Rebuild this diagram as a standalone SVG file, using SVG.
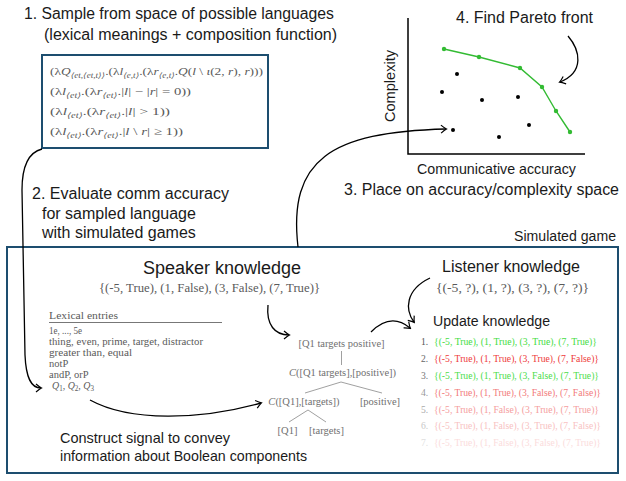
<svg xmlns="http://www.w3.org/2000/svg" width="626" height="481" viewBox="0 0 626 481">
<style>
.lbl{font-family:"Liberation Sans",Arial,sans-serif;fill:#1a1a1a}
.tex{font-family:"Liberation Serif","DejaVu Serif",serif;fill:#5a5a5a}
.tree{font-family:"Liberation Serif","DejaVu Serif",serif;fill:#707070;font-size:10.5px;text-anchor:middle}
.conn{fill:none;stroke:#000;stroke-width:1.3}
.box{fill:none;stroke:#1d4e6f}
.it{font-style:italic}
.tl{stroke:#888;stroke-width:0.8;fill:none}
</style>
<defs>
<marker id="arr" viewBox="-6 -5 8 10" markerWidth="8" markerHeight="10" refX="0" refY="0" orient="auto" markerUnits="userSpaceOnUse">
<path d="M-5,-4 Q-1.5,-1 0.5,0 Q-1.5,1 -5,4" fill="none" stroke="#000" stroke-width="1.2"/>
</marker>
</defs>
<rect width="626" height="481" fill="#fff"/>

<g id="step1">
<text class="lbl" x="24" y="19" font-size="16" textLength="310" lengthAdjust="spacingAndGlyphs">1. Sample from space of possible languages</text>
<text class="lbl" x="44" y="40" font-size="16">(lexical meanings + composition function)</text>
</g>

<g id="formulas">
<rect class="box" x="42" y="55" width="226" height="93" stroke-width="2"/>
<text class="tex" x="50" y="75" font-size="11" textLength="213" lengthAdjust="spacingAndGlyphs">(λ<tspan class="it">Q</tspan><tspan dy="2.5" font-size="7.5" class="it">⟨et,⟨et,t⟩⟩</tspan><tspan dy="-2.5">.(λ</tspan><tspan class="it">l</tspan><tspan dy="2.5" font-size="7.5" class="it">⟨e,t⟩</tspan><tspan dy="-2.5">.(λ</tspan><tspan class="it">r</tspan><tspan dy="2.5" font-size="7.5" class="it">⟨e,t⟩</tspan><tspan dy="-2.5">.</tspan><tspan class="it">Q</tspan>(<tspan class="it">l</tspan> \ <tspan class="it">ι</tspan>(2, <tspan class="it">r</tspan>), <tspan class="it">r</tspan>)))</text>
<text class="tex" x="50" y="95" font-size="11" textLength="141" lengthAdjust="spacingAndGlyphs">(λ<tspan class="it">l</tspan><tspan dy="2.5" font-size="7.5" class="it">⟨et⟩</tspan><tspan dy="-2.5">.(λ</tspan><tspan class="it">r</tspan><tspan dy="2.5" font-size="7.5" class="it">⟨et⟩</tspan><tspan dy="-2.5">.|</tspan><tspan class="it">l</tspan>| − |<tspan class="it">r</tspan>| = 0))</text>
<text class="tex" x="50" y="115" font-size="11" textLength="120" lengthAdjust="spacingAndGlyphs">(λ<tspan class="it">l</tspan><tspan dy="2.5" font-size="7.5" class="it">⟨et⟩</tspan><tspan dy="-2.5">.(λ</tspan><tspan class="it">r</tspan><tspan dy="2.5" font-size="7.5" class="it">⟨et⟩</tspan><tspan dy="-2.5">.|</tspan><tspan class="it">l</tspan>| &gt; 1))</text>
<text class="tex" x="50" y="135" font-size="11" textLength="133" lengthAdjust="spacingAndGlyphs">(λ<tspan class="it">l</tspan><tspan dy="2.5" font-size="7.5" class="it">⟨et⟩</tspan><tspan dy="-2.5">.(λ</tspan><tspan class="it">r</tspan><tspan dy="2.5" font-size="7.5" class="it">⟨et⟩</tspan><tspan dy="-2.5">.|</tspan><tspan class="it">l</tspan> \ <tspan class="it">r</tspan>| ≥ 1))</text>
</g>

<g id="chart">
<path d="M408,18 V154 H585" fill="none" stroke="#000" stroke-width="1.5"/>
<text class="lbl" transform="translate(395,86) rotate(-90)" font-size="15" text-anchor="middle" textLength="72" lengthAdjust="spacingAndGlyphs">Complexity</text>
<text class="lbl" x="417" y="174" font-size="14.5" textLength="159" lengthAdjust="spacingAndGlyphs">Communicative accuracy</text>
<polyline points="444,49 479,57 520,68 542,87 556,111 570,132" fill="none" stroke="#33bb33" stroke-width="1.4"/>
<g fill="#33bb33">
<circle cx="444" cy="49" r="2.2"/><circle cx="479" cy="57" r="2.2"/><circle cx="520" cy="68" r="2.2"/><circle cx="542" cy="87" r="2.2"/><circle cx="556" cy="111" r="2.2"/><circle cx="570" cy="132" r="2.2"/>
</g>
<g fill="#000">
<circle cx="457" cy="74" r="2"/><circle cx="442" cy="92" r="2"/><circle cx="482" cy="100" r="2"/><circle cx="518" cy="97" r="2"/><circle cx="453" cy="130" r="2"/><circle cx="499" cy="137" r="2"/><circle cx="529" cy="125" r="2"/>
</g>
</g>

<g id="step4">
<text class="lbl" x="456" y="23" font-size="16" textLength="137" lengthAdjust="spacingAndGlyphs">4. Find Pareto front</text>
</g>
<g id="step3">
<text class="lbl" x="344" y="195" font-size="16" textLength="275" lengthAdjust="spacingAndGlyphs">3. Place on accuracy/complexity space</text>
</g>
<g id="step2">
<text class="lbl" x="32" y="199" font-size="16" textLength="197" lengthAdjust="spacingAndGlyphs">2. Evaluate comm accuracy</text>
<text class="lbl" x="42" y="219" font-size="16">for sampled language</text>
<text class="lbl" x="42" y="238" font-size="16">with simulated games</text>
</g>

<g id="game">
<rect class="box" x="7" y="247" width="611" height="226" stroke-width="2"/>
<text class="lbl" x="616" y="241" font-size="14" text-anchor="end" textLength="102" lengthAdjust="spacingAndGlyphs">Simulated game</text>
</g>

<g id="speaker">
<text class="lbl" x="222" y="274" font-size="18" text-anchor="middle" textLength="158" lengthAdjust="spacingAndGlyphs">Speaker knowledge</text>
<text class="tex" x="99" y="292" font-size="12" textLength="221" lengthAdjust="spacingAndGlyphs">{(-5, True), (1, False), (3, False), (7, True)}</text>
</g>

<g id="lexicon">
<text class="tex" x="49" y="319" font-size="10.5" textLength="69" lengthAdjust="spacingAndGlyphs">Lexical entries</text>
<line x1="49" y1="322.5" x2="222" y2="322.5" stroke="#777" stroke-width="1"/>
<text class="tex" x="49" y="333.5" font-size="10.5" textLength="33" lengthAdjust="spacingAndGlyphs">1e, ..., 5e</text>
<text class="tex" x="49" y="344.5" font-size="10.5" textLength="154" lengthAdjust="spacingAndGlyphs">thing, even, prime, target, distractor</text>
<text class="tex" x="49" y="355.5" font-size="10.5" textLength="83" lengthAdjust="spacingAndGlyphs">greater than, equal</text>
<text class="tex" x="49" y="366.5" font-size="10.5">notP</text>
<text class="tex" x="49" y="377.5" font-size="10.5">andP, orP</text>
<text class="tex" x="52" y="388.5" font-size="10.5" textLength="42" lengthAdjust="spacingAndGlyphs"><tspan class="it">Q</tspan><tspan dy="2" font-size="7.5">1</tspan><tspan dy="-2">, </tspan><tspan class="it">Q</tspan><tspan dy="2" font-size="7.5">2</tspan><tspan dy="-2">, </tspan><tspan class="it">Q</tspan><tspan dy="2" font-size="7.5">3</tspan></text>
</g>

<g id="construct">
<text class="lbl" x="60" y="443" font-size="14.4" textLength="170" lengthAdjust="spacingAndGlyphs">Construct signal to convey</text>
<text class="lbl" x="60" y="461" font-size="14.4" textLength="247" lengthAdjust="spacingAndGlyphs">information about Boolean components</text>
</g>

<g id="tree">
<text class="tree" x="341.5" y="347">[Q1 targets positive]</text>
<text class="tree" x="342.5" y="376"><tspan class="it">C</tspan>([Q1 targets],[positive])</text>
<text class="tree" x="304" y="405"><tspan class="it">C</tspan>([Q1],[targets])</text>
<text class="tree" x="380" y="405">[positive]</text>
<text class="tree" x="287.5" y="434">[Q1]</text>
<text class="tree" x="326.5" y="434">[targets]</text>
<line class="tl" x1="341.5" y1="351" x2="341.5" y2="365"/>
<polyline class="tl" points="305,393 341,382 382,393"/>
<polyline class="tl" points="289,422 308,410 326,422"/>
</g>

<g id="listener">
<text class="lbl" x="511" y="272" font-size="16" text-anchor="middle" textLength="138" lengthAdjust="spacingAndGlyphs">Listener knowledge</text>
<text class="tex" x="436" y="292" font-size="12.5" textLength="153" lengthAdjust="spacingAndGlyphs">{(-5, ?), (1, ?), (3, ?), (7, ?)}</text>
</g>

<g id="update">
<text class="lbl" x="433" y="326" font-size="14" textLength="117" lengthAdjust="spacingAndGlyphs">Update knowledge</text>
<g class="tex" font-size="9.6">
<text x="421" y="345" fill="#555">1.</text>
<text x="434" y="345" fill="#44dd44" textLength="163" lengthAdjust="spacingAndGlyphs">{(-5, True), (1, True), (3, True), (7, True)}</text>
<text x="421" y="362" fill="#666">2.</text>
<text x="434" y="362" fill="#ee3b3b" textLength="165" lengthAdjust="spacingAndGlyphs">{(-5, True), (1, True), (3, True), (7, False)}</text>
<text x="421" y="379" fill="#777">3.</text>
<text x="434" y="379" fill="#4cdd4c" textLength="165" lengthAdjust="spacingAndGlyphs">{(-5, True), (1, True), (3, False), (7, True)}</text>
<text x="421" y="396" fill="#999">4.</text>
<text x="434" y="396" fill="#f27a7a" textLength="167" lengthAdjust="spacingAndGlyphs">{(-5, True), (1, True), (3, False), (7, False)}</text>
<text x="421" y="412.5" fill="#aaa">5.</text>
<text x="434" y="412.5" fill="#f59e9e" textLength="165" lengthAdjust="spacingAndGlyphs">{(-5, True), (1, False), (3, True), (7, True)}</text>
<text x="421" y="429" fill="#c8c8c8">6.</text>
<text x="434" y="429" fill="#f8c2c2" textLength="167" lengthAdjust="spacingAndGlyphs">{(-5, True), (1, False), (3, True), (7, False)}</text>
<text x="421" y="446" fill="#e0e0e0">7.</text>
<text x="434" y="446" fill="#fbdcdc" textLength="167" lengthAdjust="spacingAndGlyphs">{(-5, True), (1, False), (3, False), (7, True)}</text>
</g>
</g>

<g id="connectors">
<path class="conn" d="M42,149 C30,152 22,165 22,190 L25,355 C26,378 31,388 41,388" marker-end="url(#arr)"/>
<path class="conn" d="M90,400 C130,422 200,420 261,403" marker-end="url(#arr)"/>
<path class="conn" d="M298,247 C288,160 330,132 446,129" marker-end="url(#arr)"/>
<path class="conn" d="M568,36 C580,50 585,72 560,82" marker-end="url(#arr)"/>
<path class="conn" d="M268,305 C266,325 275,335 289,335" marker-end="url(#arr)"/>
<path class="conn" d="M371,332 C385,318 398,318 410,328" marker-end="url(#arr)"/>
<path class="conn" d="M430,278 C405,290 405,310 414,322" marker-end="url(#arr)"/>
</g>
</svg>
